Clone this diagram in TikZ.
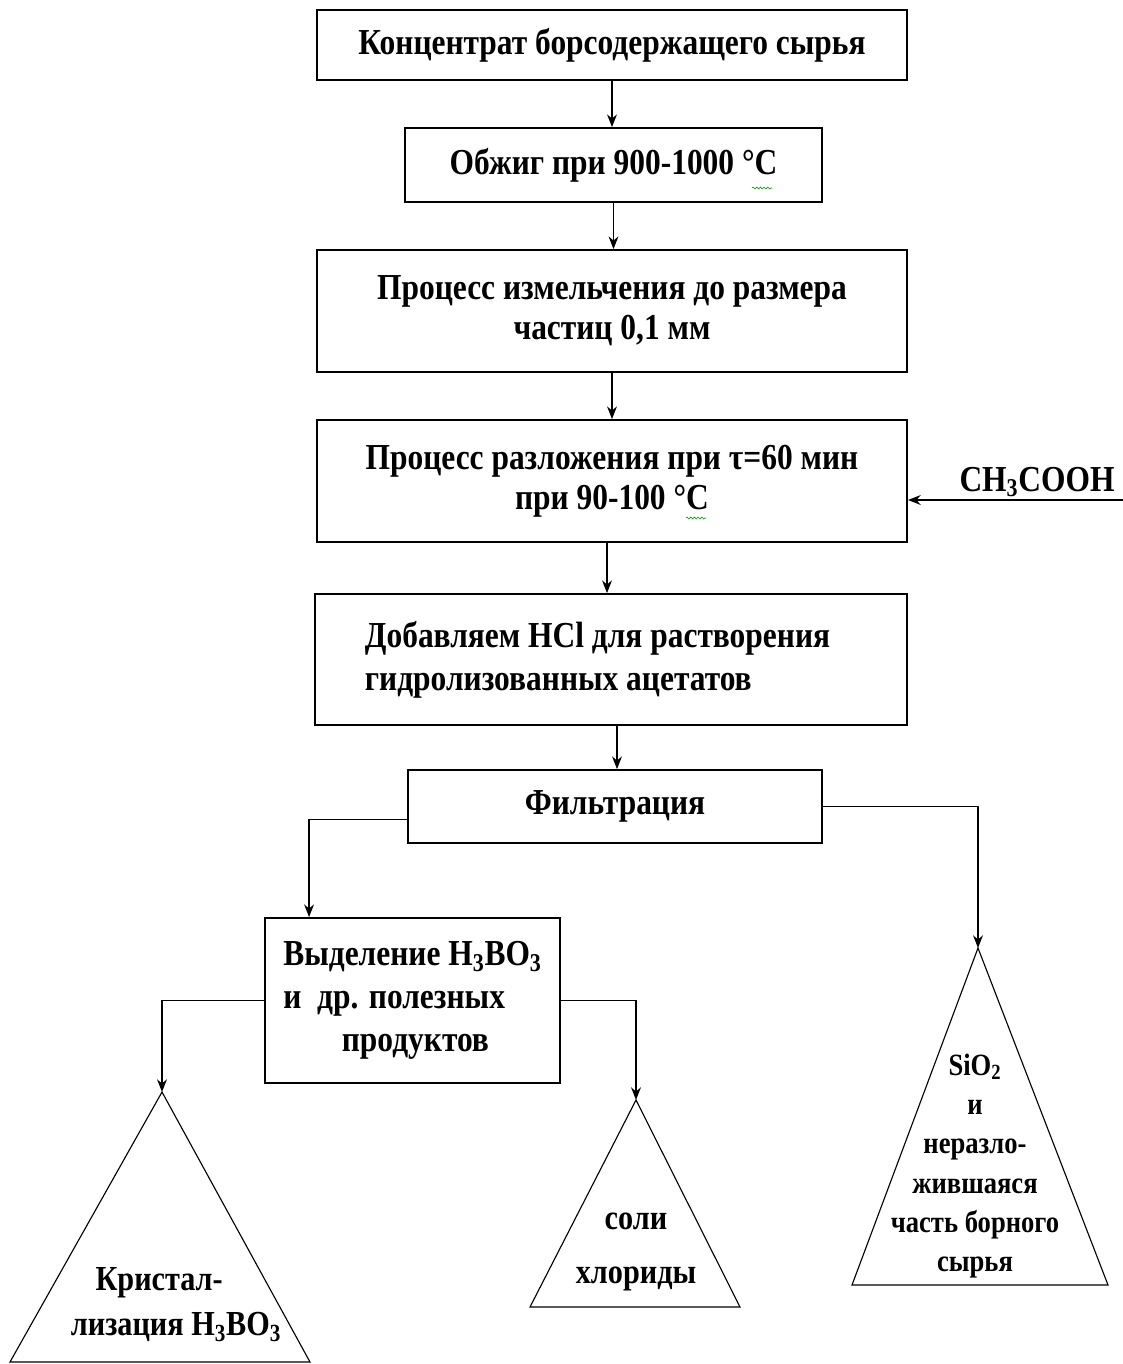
\documentclass[tikz,border=0pt]{standalone}
\usepackage{fontspec}
\setmainfont{Liberation Serif}[FakeStretch=0.86]
\usetikzlibrary{arrows.meta,calc,decorations.pathmorphing}

\begin{document}
\begin{tikzpicture}[x=0.025cm,y=-0.025cm,>={Stealth[length=9pt,width=7pt]},font=\bfseries\fontsize{26}{29}\selectfont]
\tikzstyle{b}=[draw,line width=1.3pt,align=center,inner sep=0pt]
\tikzstyle{tri}=[draw,line width=0.8pt]
\tikzstyle{squig}=[draw=green!55!black,line width=0.4pt,decorate,decoration={snake,amplitude=0.7pt,segment length=2.6pt}]
\useasboundingbox (0,0) rectangle (1123,1364);
% main chain
\node[b,minimum width=14.75cm,minimum height=1.75cm] (conc) at (612,45) {Концентрат борсодержащего сырья};
\node[b,minimum width=10.425cm,minimum height=1.85cm] (fire) at (613.5,165) {Обжиг при 900-1000 °C};
\node[b,minimum width=14.75cm,minimum height=3.05cm,font=\bfseries\fontsize{26}{28.5}\selectfont] (grind) at (612,311) {Процесс измельчения до размера\\частиц 0,1 мм};
\node[b,minimum width=14.75cm,minimum height=3.05cm,font=\bfseries\fontsize{26}{28.5}\selectfont] (decomp) at (612,481) {Процесс разложения при τ=60 мин\\при 90-100 °C};
\node[b,minimum width=14.8cm,minimum height=3.275cm,text width=12.3cm,align=flush left,font=\bfseries\fontsize{26}{30.5}\selectfont] (hcl) at (611,659.5) {Добавляем HCl для растворения\\гидролизованных ацетатов};
\node[b,minimum width=10.35cm,minimum height=1.825cm] (filt) at (615,806.5) {Фильтрация};
\node[b,minimum width=7.375cm,minimum height=4.125cm,align=left,font=\bfseries\fontsize{26}{30.5}\selectfont] (sep) at (412.5,1000.5) {Выделение H\textsubscript{3}BO\textsubscript{3}\\и\ \ др. полезных\\\hspace{1.6em}продуктов};
\foreach \a/\z/\s in {conc/fire/0,fire/grind/0,grind/decomp/0,decomp/hcl/-5,hcl/filt/6}
  \draw[->,line width=1pt] ($(\a.south)+(\s,0)$) coordinate (s) -- (s |- \z.north);
% acid input
\coordinate (acid) at (1123,500);
\node (acidlbl) at (1037,482) {CH\textsubscript{3}COOH};
\draw[->,line width=1pt] (acid) -- (acid -| decomp.east);
% output triangles
\coordinate (t1) at (162,1092);
\coordinate (t2) at (636,1100);
\coordinate (t3) at (978,948);
\draw[tri] (t1) -- (10,1362) -- (310,1362) -- cycle;
\draw[tri] (t2) -- (530,1307) -- (740,1307) -- cycle;
\draw[tri] (t3) -- (852,1285) -- (1108,1285) -- cycle;
\node[align=left,font=\bfseries\fontsize{25}{32}\selectfont] (cryst) at (176,1305) {\hspace{0.7em}Кристал-\\лизация H\textsubscript{3}BO\textsubscript{3}};
\node[align=center,font=\bfseries\fontsize{25}{39}\selectfont] (salts) at (636,1252) {соли\\хлориды};
\node[align=center,font=\bfseries\fontsize{22}{28}\selectfont] (rest) at (975,1166) {SiO\textsubscript{2}\\и\\неразло-\\жившаяся\\часть борного\\сырья};
% branches
\draw[->,line width=1pt] ($(filt.west)+(0,13)$) -| ($(sep.north west)+(45,0)$);
\draw[->,line width=1pt] (filt.east) -| (t3);
\draw[->,line width=1pt] (sep.west) -| (t1);
\draw[->,line width=1pt] (sep.east) -| (t2);
% spell-check marks
\draw[squig] (752,188) -- (772,188);
\draw[squig] (686,518) -- (706,518);
\end{tikzpicture}
\end{document}
